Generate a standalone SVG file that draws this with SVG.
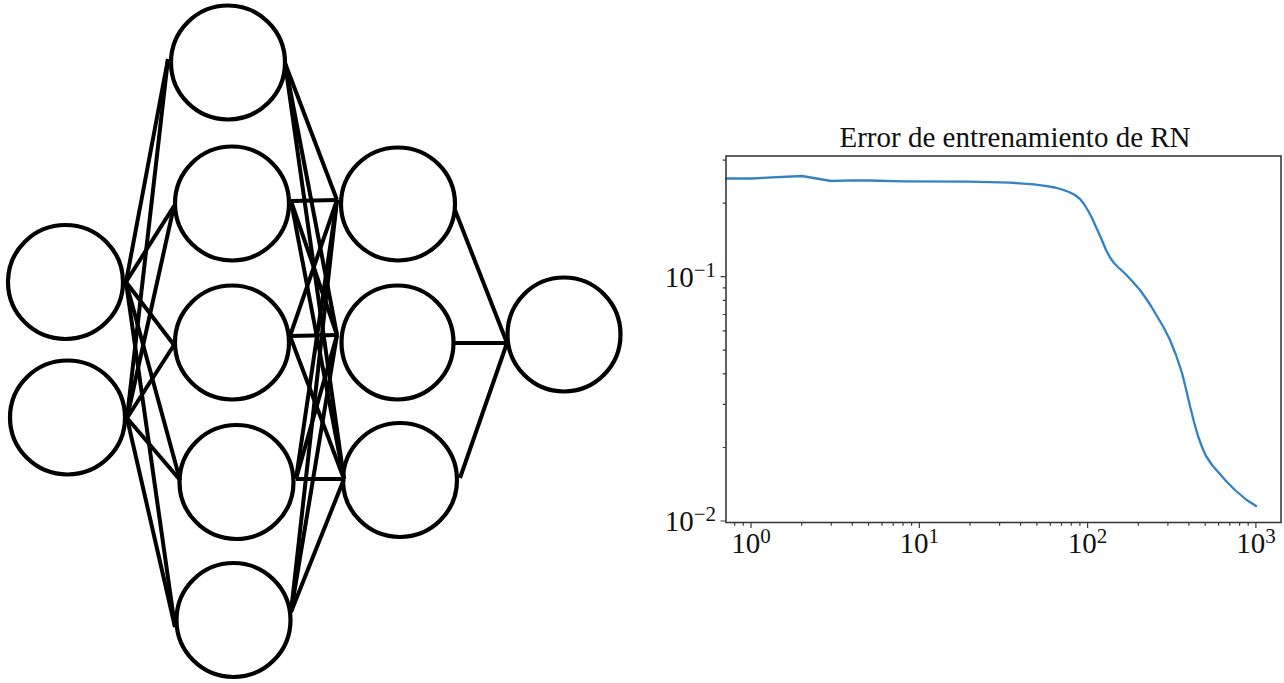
<svg xmlns="http://www.w3.org/2000/svg" width="1284" height="683" viewBox="0 0 1284 683">
<style>
.node{fill:none;stroke:#000;stroke-width:4.2}
.edge{stroke:#000;stroke-width:4;stroke-linecap:butt}
.spine{fill:none;stroke:#3a3a3a;stroke-width:1.6}
.tick{stroke:#3a3a3a;stroke-width:1.2}
.lbl{font-family:"Liberation Serif","DejaVu Serif",serif;font-size:29px;fill:#111}
.title{font-family:"Liberation Serif","DejaVu Serif",serif;font-size:29px;fill:#111}
.curve{fill:none;stroke:#3382c4;stroke-width:2.3;stroke-linejoin:round;stroke-linecap:round}
</style>
<rect width="1284" height="683" fill="#fff"/>
<g id="connectors">
<line class="edge" x1="126" y1="282" x2="168" y2="59"/>
<line class="edge" x1="126" y1="282" x2="174" y2="206"/>
<line class="edge" x1="126" y1="282" x2="174" y2="345"/>
<line class="edge" x1="126" y1="282" x2="180" y2="480"/>
<line class="edge" x1="126" y1="282" x2="175" y2="627"/>
<line class="edge" x1="127" y1="418" x2="168" y2="59"/>
<line class="edge" x1="127" y1="418" x2="174" y2="206"/>
<line class="edge" x1="127" y1="418" x2="174" y2="345"/>
<line class="edge" x1="127" y1="418" x2="180" y2="480"/>
<line class="edge" x1="127" y1="418" x2="175" y2="627"/>
<line class="edge" x1="285" y1="63" x2="337" y2="200"/>
<line class="edge" x1="285" y1="63" x2="337" y2="335"/>
<line class="edge" x1="285" y1="63" x2="344" y2="479"/>
<line class="edge" x1="291" y1="201" x2="337" y2="200"/>
<line class="edge" x1="291" y1="201" x2="337" y2="335"/>
<line class="edge" x1="291" y1="201" x2="344" y2="479"/>
<line class="edge" x1="290" y1="336" x2="337" y2="200"/>
<line class="edge" x1="290" y1="336" x2="337" y2="335"/>
<line class="edge" x1="290" y1="336" x2="344" y2="479"/>
<line class="edge" x1="296" y1="479" x2="337" y2="200"/>
<line class="edge" x1="296" y1="479" x2="337" y2="335"/>
<line class="edge" x1="296" y1="479" x2="344" y2="479"/>
<line class="edge" x1="291" y1="612" x2="337" y2="200"/>
<line class="edge" x1="291" y1="612" x2="337" y2="335"/>
<line class="edge" x1="291" y1="612" x2="344" y2="479"/>
<line class="edge" x1="455" y1="210" x2="507" y2="343"/>
<line class="edge" x1="455" y1="343" x2="507" y2="343"/>
<line class="edge" x1="460" y1="478" x2="507" y2="343"/>
</g>
<g id="I1"><ellipse class="node" cx="65.5" cy="282" rx="57.5" ry="57"/></g>
<g id="I2"><ellipse class="node" cx="67.5" cy="417.5" rx="57.5" ry="57"/></g>
<g id="A1"><ellipse class="node" cx="228" cy="62.5" rx="57" ry="57"/></g>
<g id="A2"><ellipse class="node" cx="232" cy="203.5" rx="57" ry="57"/></g>
<g id="A3"><ellipse class="node" cx="232" cy="342.5" rx="57" ry="57"/></g>
<g id="A4"><ellipse class="node" cx="236.5" cy="482" rx="57" ry="57"/></g>
<g id="A5"><ellipse class="node" cx="233.5" cy="620" rx="57" ry="57"/></g>
<g id="B1"><ellipse class="node" cx="398" cy="204" rx="57" ry="56.5"/></g>
<g id="B2"><ellipse class="node" cx="397.5" cy="342.5" rx="56" ry="57"/></g>
<g id="B3"><ellipse class="node" cx="400" cy="480" rx="57" ry="57"/></g>
<g id="O"><ellipse class="node" cx="564" cy="334.5" rx="56.5" ry="57"/></g>
<g id="plot">
<text class="title" x="1015" y="146.5" text-anchor="middle">Error de entrenamiento de RN</text>
<polyline class="curve" points="726,178.5 751,178.5 802,176 831,181 852,180.3 869,180.5 903,181.3 969,181.7 1010,182.7 1034,184.3 1045,185.8 1055,187.5 1062,189.5 1069,192 1075,195 1080,199 1084,204 1088,210.5 1092,218 1096,227 1101,238 1106,250 1110,257.5 1114,263 1119,268 1125,273.5 1133,282 1140,290 1145,297 1151,306 1157.5,317 1164,328 1170,340 1176,355 1182,373 1186,389 1190,406 1194,422 1198,436 1202,447 1206,456 1212,465 1219,473 1227,482 1235,490 1246,499.5 1256,506"/>
<rect class="spine" x="726" y="156" width="555" height="366.5"/>
<g id="xticks">
<path class="tick" d="M751,522.5v5.5M919.3,522.5v5.5M1087.6,522.5v5.5M1255.9,522.5v5.5"/>
<path class="tick" d="M734.7,522.5v3.3M743.3,522.5v3.3M801.7,522.5v3.3M831.3,522.5v3.3M852.3,522.5v3.3M868.6,522.5v3.3M882,522.5v3.3M893.2,522.5v3.3M903,522.5v3.3M911.6,522.5v3.3M970,522.5v3.3M999.6,522.5v3.3M1020.6,522.5v3.3M1036.9,522.5v3.3M1050.3,522.5v3.3M1061.5,522.5v3.3M1071.3,522.5v3.3M1079.9,522.5v3.3M1138.3,522.5v3.3M1167.9,522.5v3.3M1188.9,522.5v3.3M1205.2,522.5v3.3M1218.6,522.5v3.3M1229.8,522.5v3.3M1239.6,522.5v3.3M1248.2,522.5v3.3"/>
</g>
<g id="yticks">
<path class="tick" d="M726,276.7h-5.5M726,521h-5.5"/>
<path class="tick" d="M726,447.5h-3.3M726,404.4h-3.3M726,373.9h-3.3M726,350.2h-3.3M726,330.9h-3.3M726,314.5h-3.3M726,300.4h-3.3M726,287.9h-3.3M726,203.2h-3.3M726,160.1h-3.3"/>
</g>
<text class="lbl" x="751" y="553" text-anchor="middle">10<tspan dy="-10" font-size="21">0</tspan></text>
<text class="lbl" x="919.3" y="553" text-anchor="middle">10<tspan dy="-10" font-size="21">1</tspan></text>
<text class="lbl" x="1087.6" y="553" text-anchor="middle">10<tspan dy="-10" font-size="21">2</tspan></text>
<text class="lbl" x="1255.9" y="553" text-anchor="middle">10<tspan dy="-10" font-size="21">3</tspan></text>
<text class="lbl" x="716" y="287" text-anchor="end">10<tspan dy="-10" font-size="21">−1</tspan></text>
<text class="lbl" x="716" y="531" text-anchor="end">10<tspan dy="-10" font-size="21">−2</tspan></text>
</g>
</svg>
